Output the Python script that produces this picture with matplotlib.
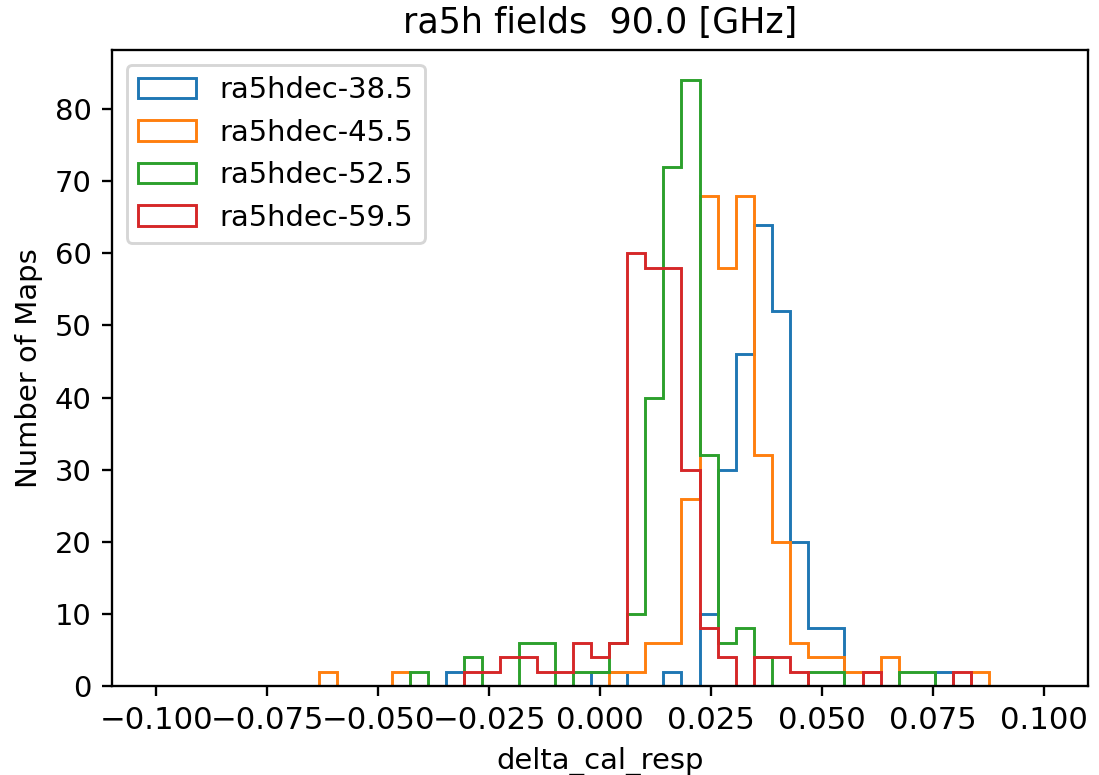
import numpy as np
import matplotlib
matplotlib.use("Agg")
import matplotlib.pyplot as plt

# Histogram bin edges (49 bins from -0.1 to 0.1)
bin_edges = np.linspace(-0.1, 0.1, 50)

labels = ["ra5hdec-38.5", "ra5hdec-45.5", "ra5hdec-52.5", "ra5hdec-59.5"]

counts_38 = [0, 0, 0, 0, 0, 0, 0, 0, 0, 0,
             0, 0, 0, 0, 0, 0, 2, 0, 0, 0,
             0, 0, 0, 0, 2, 2, 0, 0, 2, 0,
             10, 30, 46, 64, 52, 20, 8, 8, 0, 0,
             0, 0, 0, 2, 0, 0, 0, 0, 0]

counts_45 = [0, 0, 0, 0, 0, 0, 0, 0, 0, 2,
             0, 0, 0, 2, 0, 0, 0, 0, 0, 0,
             0, 0, 0, 0, 0, 2, 2, 6, 6, 26,
             68, 58, 68, 32, 20, 6, 4, 4, 2, 2,
             4, 0, 0, 0, 0, 2, 0, 0, 0]

counts_52 = [0, 0, 0, 0, 0, 0, 0, 0, 0, 0,
             0, 0, 0, 0, 2, 0, 0, 4, 0, 0,
             6, 6, 0, 2, 2, 6, 10, 40, 72, 84,
             32, 6, 8, 4, 0, 0, 2, 2, 0, 0,
             0, 2, 2, 0, 0, 0, 0, 0, 0]

counts_59 = [0, 0, 0, 0, 0, 0, 0, 0, 0, 0,
             0, 0, 0, 0, 0, 0, 0, 2, 2, 4,
             4, 2, 2, 6, 4, 6, 60, 58, 58, 30,
             8, 4, 0, 4, 4, 2, 0, 0, 0, 2,
             0, 0, 0, 0, 2, 0, 0, 0, 0]

series = [counts_38, counts_45, counts_52, counts_59]

DPI = 209
fig = plt.figure(figsize=(1099 / DPI, 775 / DPI), dpi=DPI)
ax = fig.add_subplot(111)
fig.subplots_adjust(left=0.1019, right=0.990, bottom=0.1148, top=0.9355)

centers = 0.5 * (bin_edges[:-1] + bin_edges[1:])
for lab, cnt in zip(labels, series):
    ax.hist(centers, bins=bin_edges, weights=cnt, histtype="step", label=lab)

ax.set_title("ra5h fields  90.0 [GHz]")
ax.set_xlabel("delta_cal_resp")
ax.set_ylabel("Number of Maps")
ax.tick_params(axis="x", labelsize=10.6)
ax.legend(loc="upper left")

fig.savefig("out.png", dpi=DPI)
